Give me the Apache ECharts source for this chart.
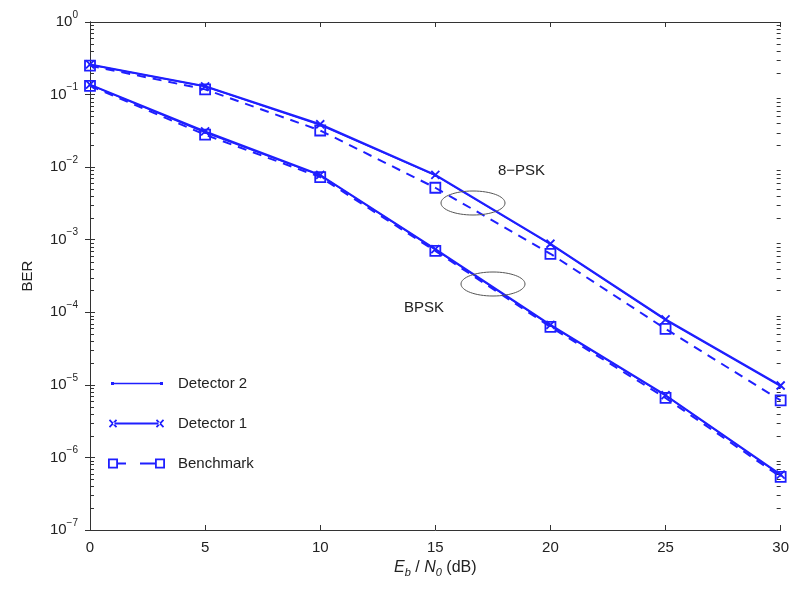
<!DOCTYPE html>
<html>
	<head>
		<meta charset="utf-8">
		<title>BER</title>
		<style type="text/css">
			html, body { margin: 0; padding: 0; background: #fff; }
			#chart { width: 792px; height: 596px; }
		</style>
	</head>
	<body>
		<div id="chart"></div>
		<script src="https://cdn.jsdelivr.net/npm/echarts@6/dist/echarts.min.js"></script>
		<script type="text/javascript">
			// Eb/N0 (dB)
			var ebn0 = [0, 5, 10, 15, 20, 25, 30];
			// 8-PSK
			var psk8Det2 = [0.258, 0.129, 0.038, 0.0077, 8.6e-4, 7.8e-5, 9.5e-6];
			var psk8Det1 = [0.26, 0.13, 0.039, 0.0078, 8.8e-4, 8.0e-5, 9.8e-6];
			var psk8Bench = [0.25, 0.118, 0.032, 0.0052, 6.4e-4, 5.9e-5, 6.1e-6];
			// BPSK
			var bpskDet2 = [0.136, 0.030, 0.0077, 7.3e-4, 6.6e-5, 7.1e-6, 5.7e-7];
			var bpskDet1 = [0.137, 0.031, 0.0078, 7.4e-4, 6.7e-5, 7.2e-6, 5.8e-7];
			var bpskBench = [0.132, 0.028, 0.0073, 7.0e-4, 6.3e-5, 6.6e-6, 5.4e-7];
			// y ticks (decades)
			var yExp = [0, -1, -2, -3, -4, -5, -6, -7];

			var blue = '#1f1fff';
			var font = 'Liberation Sans, Arial, sans-serif';

			// minor log ticks 2..9 per decade
			var minorTicks = [];
			for (var e = -7; e < 0; e++) {
				for (var m = 2; m <= 9; m++) {
					minorTicks.push(m * Math.pow(10, e));
				}
			}

			var pairs = function(ys) {
				return ebn0.map(function(x, i) { return [x, ys[i]]; });
			};

			// ---- path helpers for legend icons (64 x 12 box) ----
			var f = function(n) { return n.toFixed(2); };
			var rectP = function(x, y, w, h) {
				return 'M' + f(x) + ',' + f(y) + 'L' + f(x + w) + ',' + f(y) + 'L' + f(x + w) + ',' + f(y + h) + 'L' + f(x) + ',' + f(y + h) + 'Z';
			};
			var rectRevP = function(x, y, w, h) {
				return 'M' + f(x) + ',' + f(y) + 'L' + f(x) + ',' + f(y + h) + 'L' + f(x + w) + ',' + f(y + h) + 'L' + f(x + w) + ',' + f(y) + 'Z';
			};
			var frameP = function(cx, cy, s, t) {
				return rectP(cx - s / 2, cy - s / 2, s, s) + rectRevP(cx - s / 2 + t, cy - s / 2 + t, s - 2 * t, s - 2 * t);
			};
			var crossP = function(cx, cy, a, w) {
				var pts = [[w, a], [w, w], [a, w], [a, -w], [w, -w], [w, -a], [-w, -a], [-w, -w], [-a, -w], [-a, w], [-w, w], [-w, a]];
				return pts.map(function(p, i) {
					var x = (p[0] - p[1]) / Math.SQRT2 + cx;
					var y = (p[0] + p[1]) / Math.SQRT2 + cy;
					return (i ? 'L' : 'M') + f(x) + ',' + f(y);
				}).join('') + 'Z';
			};
			var bboxP = 'M0,0L0.01,0L0,0.01Z M64,12L63.99,12L64,11.99Z';

			var iconDet2 = 'path://' + bboxP + rectP(9, 5.25, 50, 1.5) + rectP(8, 4.5, 3, 3) + rectP(57, 4.5, 3, 3);
			var iconDet1 = 'path://' + bboxP + rectP(10, 5, 47, 2) + crossP(10, 6, 5, 0.9) + crossP(57, 6, 5, 0.9);
			var iconBench = 'path://' + bboxP + frameP(10, 6, 10, 1.8) + frameP(57, 6, 10, 1.8) + rectP(15, 5, 8, 2) + rectP(37, 5, 15, 2);

			var crossSym = 'path://M0,0L10,10M10,0L0,10';

			var det2 = function(ys) {
				return {
					name: 'Detector 2', type: 'line', data: pairs(ys),
					symbol: 'circle', symbolSize: 3,
					lineStyle: { color: blue, width: 1.5 },
					itemStyle: { color: blue },
					z: 3
				};
			};
			var det1 = function(ys) {
				return {
					name: 'Detector 1', type: 'line', data: pairs(ys),
					symbol: crossSym, symbolSize: 8,
					lineStyle: { color: blue, width: 2 },
					itemStyle: { color: 'rgba(0,0,0,0)', borderColor: blue, borderWidth: 1.8 },
					z: 4
				};
			};
			var bench = function(ys) {
				return {
					name: 'Benchmark', type: 'line', data: pairs(ys),
					symbol: 'rect', symbolSize: 10,
					lineStyle: { color: blue, width: 2, type: [9, 7] },
					itemStyle: { color: 'rgba(0,0,0,0)', borderColor: blue, borderWidth: 1.8 },
					z: 5
				};
			};

			var chart = echarts.init(document.getElementById('chart'));
			var option = {
				animation: false,
				backgroundColor: '#fff',
				textStyle: { fontFamily: font },
				grid: { left: 90, right: 10, top: 22, bottom: 66 },
				legend: {
					orient: 'vertical',
					left: 98, top: 371,
					itemWidth: 64, itemHeight: 12, itemGap: 25,
					textStyle: { fontSize: 15, color: '#222', fontFamily: font, padding: [0, 0, 0, 6] },
					data: [
						{ name: 'Detector 2', icon: iconDet2, itemStyle: { color: blue, borderWidth: 0, opacity: 1 } },
						{ name: 'Detector 1', icon: iconDet1, itemStyle: { color: blue, borderWidth: 0 } },
						{ name: 'Benchmark', icon: iconBench, itemStyle: { color: blue, borderWidth: 0 } }
					]
				},
				xAxis: [{
					type: 'value', min: 0, max: 30, interval: 5,
					name: '{i|E}{s|b}{n| / }{i|N}{s|0}{n| (dB)}',
					nameLocation: 'middle', nameGap: 30,
					nameTextStyle: {
						rich: {
							i: { fontSize: 16, fontStyle: 'italic', color: '#222', fontFamily: font },
							s: { fontSize: 11, fontStyle: 'italic', color: '#222', fontFamily: font, padding: [0, 0, -10, 0] },
							n: { fontSize: 16, color: '#222', fontFamily: font }
						}
					},
					axisLine: { lineStyle: { color: '#333', width: 1 } },
					axisTick: { inside: true, length: 5, lineStyle: { color: '#333' } },
					axisLabel: { fontSize: 15, color: '#222', margin: 10 },
					splitLine: { show: false }
				}, {
					type: 'value', min: 0, max: 30, interval: 5, position: 'top',
					axisLine: { lineStyle: { color: '#333', width: 1 } },
					axisTick: { inside: true, length: 5, lineStyle: { color: '#333' } },
					axisLabel: { show: false },
					splitLine: { show: false }
				}],
				yAxis: [{
					type: 'log', min: 1e-7, max: 1, logBase: 10,
					name: 'BER', nameLocation: 'middle', nameGap: 55,
					nameTextStyle: { fontSize: 15, color: '#222' },
					axisLine: { lineStyle: { color: '#333', width: 1 } },
					axisTick: { inside: true, length: 5, lineStyle: { color: '#333' } },
					axisLabel: {
						margin: 12,
						formatter: function(v) {
							var ex = Math.round(Math.log10(v));
							if (yExp.indexOf(ex) < 0) return '';
							return '{b|10}{e|' + (ex < 0 ? '\u2212' + (-ex) : ex) + '}';
						},
						rich: {
							b: { fontSize: 15, color: '#222', fontFamily: font },
							e: { fontSize: 10, color: '#222', fontFamily: font, padding: [0, 0, 14, 0] }
						}
					},
					splitLine: { show: false }
				}, {
					type: 'log', min: 1e-7, max: 1, logBase: 10, position: 'right',
					axisLine: { lineStyle: { color: '#333', width: 1 } },
					axisTick: { inside: true, length: 5, lineStyle: { color: '#333' } },
					axisLabel: { show: false },
					splitLine: { show: false }
				}],
				graphic: [
					{ type: 'ellipse', shape: { cx: 473, cy: 203, rx: 32, ry: 12 }, style: { fill: 'none', stroke: '#555', lineWidth: 1 }, z: 10 },
					{ type: 'ellipse', shape: { cx: 493, cy: 284, rx: 32, ry: 12 }, style: { fill: 'none', stroke: '#555', lineWidth: 1 }, z: 10 },
					{ type: 'text', left: 498, top: 163, style: { text: '8\u2212PSK', fontSize: 15, fill: '#222', fontFamily: font }, z: 10 },
					{ type: 'text', left: 404, top: 300, style: { text: 'BPSK', fontSize: 15, fill: '#222', fontFamily: font }, z: 10 }
				],
				series: [
					det2(psk8Det2), det1(psk8Det1), bench(psk8Bench),
					det2(bpskDet2), det1(bpskDet1), bench(bpskBench),
					{
						type: 'custom',
						silent: true,
						clip: false,
						data: minorTicks.map(function(v) { return [0, v]; }),
						encode: { x: 0, y: 1 },
						renderItem: function(params, api) {
							var v = api.value(1);
							var l = api.coord([0, v]);
							var r = api.coord([30, v]);
							var y = Math.round(l[1]) + 0.5;
							return {
								type: 'group',
								children: [
									{ type: 'line', shape: { x1: l[0], y1: y, x2: l[0] + 4, y2: y }, style: { stroke: '#333', lineWidth: 1 } },
									{ type: 'line', shape: { x1: r[0] - 4, y1: y, x2: r[0], y2: y }, style: { stroke: '#333', lineWidth: 1 } }
								]
							};
						}
					}
				]
			};
			chart.setOption(option);
		</script>
	</body>
</html>
